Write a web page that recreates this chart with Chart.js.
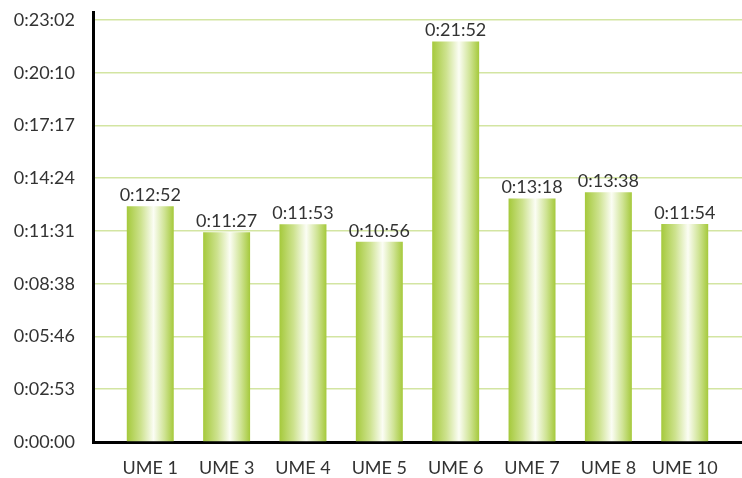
<!DOCTYPE html>
<html>
<head>
<meta charset="utf-8">
<script src="https://cdn.jsdelivr.net/npm/chart.js@4/dist/chart.umd.min.js"></script>
<style>
  body { margin: 0; background: #fff; }
  #wrap { width: 742px; height: 478px; }
</style>
</head>
<body>
<div id="wrap"><canvas id="chart"></canvas></div>
<script>
// DADOS
const categories = ["UME 1", "UME 3", "UME 4", "UME 5", "UME 6", "UME 7", "UME 8", "UME 10"];
// durations in seconds (0:12:52 -> 772)
const durations = [772, 687, 713, 656, 1312, 798, 818, 714];
// y ticks: steps of 0.002 day = 172.8 s
const yTicks = [0, 172.8, 345.6, 518.4, 691.2, 864, 1036.8, 1209.6, 1382.4];

const FONT = "Lato, 'Open Sans', sans-serif";

function fmt(sec) {
  const s = Math.round(sec);
  const h = Math.floor(s / 3600);
  const m = Math.floor((s % 3600) / 60);
  const r = s % 60;
  return h + ":" + String(m).padStart(2, "0") + ":" + String(r).padStart(2, "0");
}

// gradiente horizontal por barra
function barGradient(c) {
  const chart = c.chart;
  if (!chart.chartArea || !chart.scales.x) return "#a6ca3e";
  const cx = chart.scales.x.getPixelForValue(c.dataIndex);
  const half = 23.5;
  const g = chart.ctx.createLinearGradient(cx - half, 0, cx + half, 0);
  g.addColorStop(0, "#a5c93b");
  g.addColorStop(0.3, "#cde28e");
  g.addColorStop(0.57, "#fbfdf4");
  g.addColorStop(0.8, "#d0e496");
  g.addColorStop(1, "#a5c93b");
  return g;
}

// rótulos acima das barras
const valueLabels = {
  id: "valueLabels",
  afterDatasetsDraw(chart) {
    const ctx = chart.ctx;
    const meta = chart.getDatasetMeta(0);
    ctx.save();
    ctx.font = "18px " + FONT;
    ctx.fillStyle = "#333";
    ctx.textAlign = "center";
    ctx.textBaseline = "alphabetic";
    meta.data.forEach((bar, i) => {
      ctx.fillText(fmt(durations[i]), bar.x, bar.y - 5);
    });
    ctx.restore();
  }
};

function noPad(s) {
  s.paddingTop = 0; s.paddingBottom = 0; s.paddingLeft = 0; s.paddingRight = 0;
}

new Chart(document.getElementById("chart"), {
  type: "bar",
  data: {
    datasets: [{
      data: durations.map((v, i) => ({ x: i, y: v })),
      backgroundColor: barGradient,
      borderWidth: 0,
      barPercentage: 0.615,
      categoryPercentage: 1
    }]
  },
  options: {
    responsive: true,
    maintainAspectRatio: false,
    animation: false,
    layout: { padding: { top: 12, right: 0, left: 0, bottom: 0 } },
    plugins: { legend: { display: false }, tooltip: { enabled: false } },
    scales: {
      x: {
        type: "linear",
        offset: false,
        min: -0.75,
        max: 7.75,
        afterBuildTicks: (s) => { s.ticks = categories.map((_, i) => ({ value: i })); },
        afterFit: (s) => { s.height = 36; noPad(s); },
        grid: { display: false, drawTicks: false },
        border: { color: "#000", width: 3 },
        ticks: {
          padding: 15,
          color: "#333",
          font: { family: FONT, size: 18 },
          maxRotation: 0,
          callback: (v) => categories[v]
        }
      },
      y: {
        min: 0,
        max: 1408.6,
        afterBuildTicks: (s) => { s.ticks = yTicks.map((v) => ({ value: v })); },
        afterFit: (s) => { s.width = 93; noPad(s); },
        grid: { color: "#d3e5a2", lineWidth: 1.5, drawTicks: false },
        border: { color: "#000", width: 3 },
        ticks: {
          padding: 18,
          color: "#333",
          font: { family: FONT, size: 18 },
          callback: (v) => fmt(v)
        }
      }
    }
  },
  plugins: [valueLabels]
});
</script>
</body>
</html>
